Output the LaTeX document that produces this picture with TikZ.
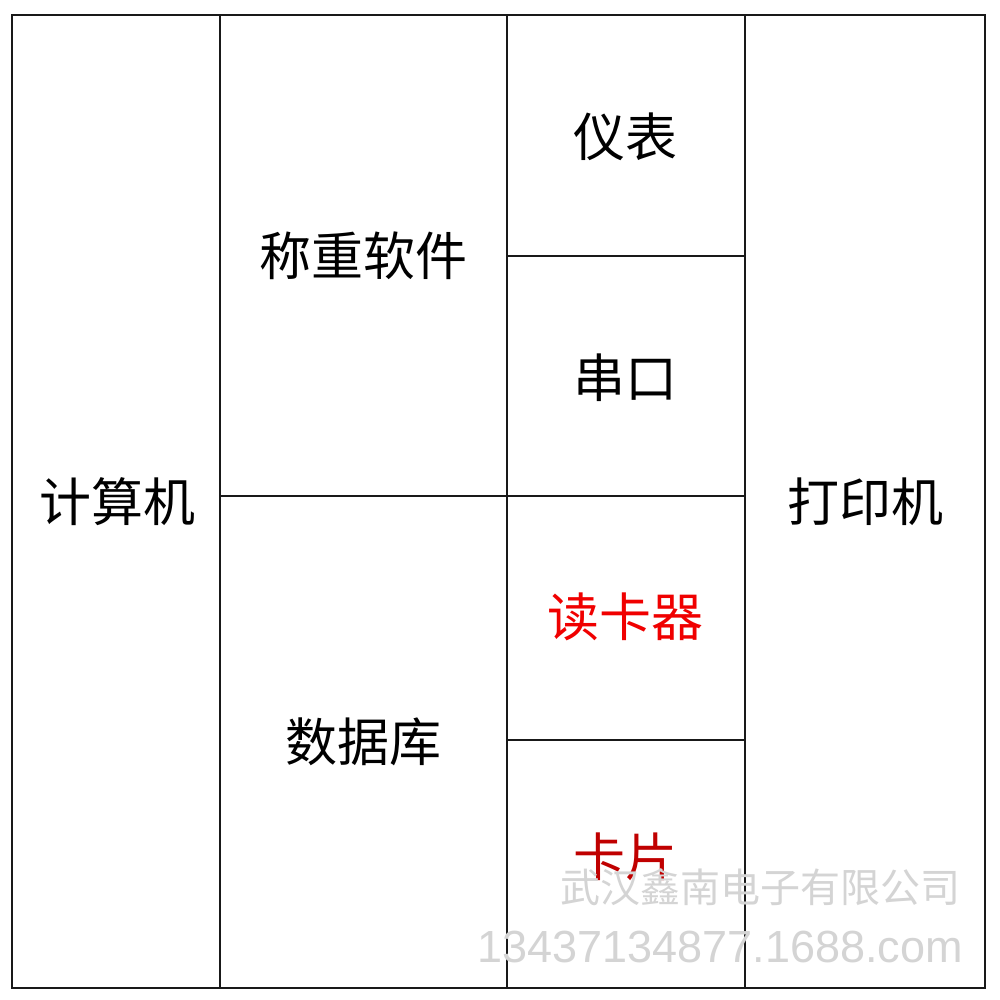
\documentclass[tikz,border=0pt]{standalone}
\usepackage{fontspec}
\newfontfamily\cjk{Noto Sans CJK SC}
\newfontfamily\wmfont{Liberation Sans}
\definecolor{wmgray}{HTML}{D4D4D4}
\definecolor{redA}{HTML}{F00000}
\definecolor{redB}{HTML}{C00000}
\begin{document}
\begin{tikzpicture}[x=1pt,y=-1pt,
  grid/.style={line width=2.2pt,draw=black!90},
  lab/.style={font=\cjk\fontsize{52}{60}\selectfont,inner sep=0pt,anchor=center},
  wm/.style={text=wmgray,inner sep=0pt,anchor=center}]
\useasboundingbox (0,0) rectangle (1000,1000);
\fill[white] (0,0) rectangle (1000,1000);
% grid
\draw[grid] (12,15) rectangle (985,988);
\draw[grid] (220,15) -- (220,988);
\draw[grid] (507,15) -- (507,988);
\draw[grid] (745,15) -- (745,988);
\draw[grid] (220,496) -- (745,496);
\draw[grid] (507,256) -- (745,256);
\draw[grid] (507,740) -- (745,740);
% labels
\node[lab] (jsj) at (117,502) {计算机};
\node[lab] (czrj) at (363,256) {称重软件};
\node[lab] (sjk) at (363,742) {数据库};
\node[lab] (yb) at (625,137) {仪表};
\node[lab] (ck) at (625,378) {串口};
\node[lab,text=redA] (dkq) at (625,617) {读卡器};
\node[lab,text=redB] (kp) at (625,857) {卡片};
\node[lab] (dyj) at (865,502) {打印机};
% watermark
\node[wm,font=\cjk\fontsize{40}{46}\selectfont] (wm1) at (760,887) {武汉鑫南电子有限公司};
\node[wm,font=\wmfont\fontsize{45}{52}\selectfont] (wm2) at (720,947) {13437134877.1688.com};
\end{tikzpicture}
\end{document}
